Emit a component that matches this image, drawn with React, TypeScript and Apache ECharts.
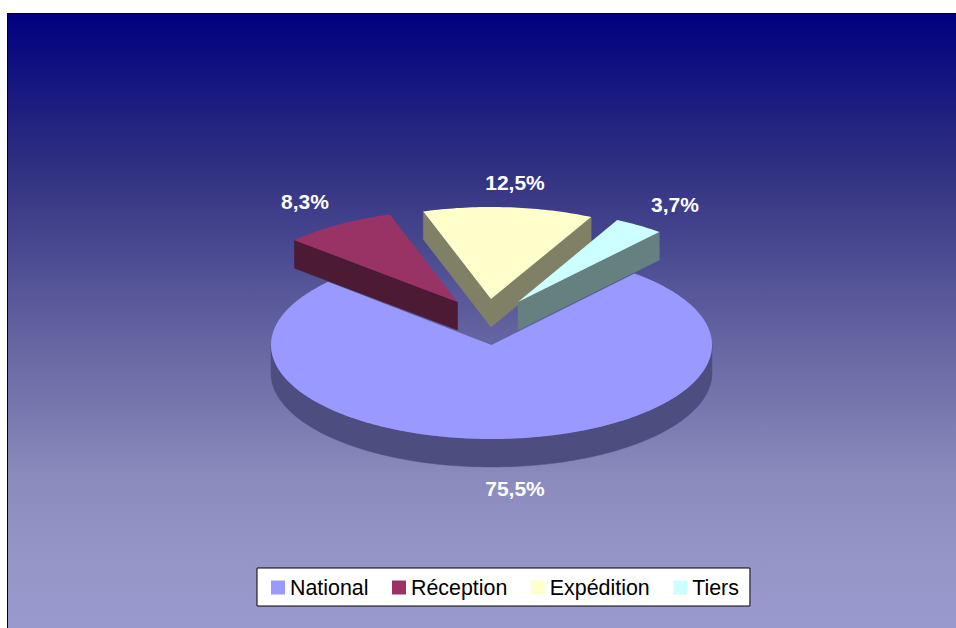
import React, { useEffect, useRef } from "react";
import * as echarts from "echarts";

const categories = ["National", "Réception", "Expédition", "Tiers"];
const shares = [75.5, 8.3, 12.5, 3.7];
const topColors = ["#9999FF", "#993366", "#FFFFCC", "#CCFFFF"];
const sideColors = ["#4D4D80", "#4D1A33", "#808066", "#668080"];

// layout of the tilted pie
const CX = 491.5;
const CY = 345;
const DEPTH = 28;
const START_DEG = 40.4;
const radii = [[220.5, 94], [220, 92], [220, 92], [218, 92]];
const explodeOffsets = [[0, 0], [-34, -43], [-0.5, -46], [26.5, -43]];
const labelPositions = [[515, 488], [305, 201], [515, 182], [675, 204]];

const total = shares.reduce((a, b) => a + b, 0);

function renderSlice(index: number) {
  return (_params: any, api: any) => {
    const value = api.value(0);
    let before = 0;
    for (let i = 0; i < index; i++) before += shares[i];
    const s = START_DEG + (before / total) * 360;
    const e = s + (value / total) * 360;
    const [rx, ry] = radii[index];
    const ax = CX + explodeOffsets[index][0];
    const ay = CY + explodeOffsets[index][1];
    const pt = (deg: number, dy = 0) => {
      const r = (deg * Math.PI) / 180;
      return [ax + rx * Math.sin(r), ay - ry * Math.cos(r) + dy];
    };
    const arc = (a: number, b: number, dy = 0) => {
      const out: number[][] = [];
      const n = Math.max(2, Math.ceil(Math.abs(b - a)));
      for (let i = 0; i <= n; i++) out.push(pt(a + ((b - a) * i) / n, dy));
      return out;
    };
    const side = sideColors[index];
    const children: any[] = [];
    const addSide = (points: number[][]) =>
      children.push({ type: "polygon", shape: { points }, style: { fill: side, stroke: side, lineWidth: 0.5 } });
    // visible radial cut faces
    if (Math.sin((s * Math.PI) / 180) < 0 && index !== 0) {
      const p = pt(s);
      addSide([p, [ax, ay], [ax, ay + DEPTH], [p[0], p[1] + DEPTH]]);
    }
    if (Math.sin((e * Math.PI) / 180) > 0 && index !== 0) {
      const p = pt(e);
      addSide([p, [ax, ay], [ax, ay + DEPTH], [p[0], p[1] + DEPTH]]);
    }
    // visible outer rim (front half of the ellipse)
    const rimFrom = Math.max(s, 90);
    const rimTo = Math.min(e, 270);
    if (rimTo > rimFrom) {
      addSide([...arc(rimFrom, rimTo), ...arc(rimTo, rimFrom, DEPTH)]);
    }
    children.push({
      type: "polygon",
      shape: { points: [[ax, ay], ...arc(s, e)] },
      style: { fill: topColors[index] },
    });
    children.push({
      type: "text",
      x: labelPositions[index][0],
      y: labelPositions[index][1],
      style: {
        text: value.toFixed(1).replace(".", ",") + "%",
        fill: "#FFFFFF",
        font: 'bold 21px "Liberation Sans", Arial, sans-serif',
        align: "center",
        verticalAlign: "middle",
      },
    });
    return { type: "group", children };
  };
}

export default function App() {
  const ref = useRef<HTMLDivElement>(null);
  useEffect(() => {
    document.body.style.margin = "0";
    const chart = echarts.init(ref.current!, null, { renderer: "svg" });
    chart.setOption({
      animation: false,
      legend: {
        left: 257,
        top: 568,
        orient: "horizontal",
        data: categories,
        icon: "rect",
        itemWidth: 14,
        itemHeight: 14,
        itemGap: 23.5,
        padding: [9, 11, 8, 14],
        backgroundColor: "#FFFFFF",
        borderColor: "#000000",
        borderWidth: 1,
        selectedMode: false,
        formatter: (n: string) => n,
        textStyle: {
          color: "#000000",
          fontFamily: '"Liberation Sans", Arial, sans-serif',
          fontSize: 21.4,
          padding: [0, 0, 0, 0],
        },
      },
      graphic: [
        {
          type: "rect",
          z: -10,
          silent: true,
          shape: { x: 7, y: 13, width: 949, height: 615 },
          style: {
            fill: new echarts.graphic.LinearGradient(0, 0, 0, 1, [
              { offset: 0, color: "#000080" },
              { offset: 0.25, color: "rgb(48,48,130)" },
              { offset: 0.5, color: "rgb(95,95,158)" },
              { offset: 0.75, color: "rgb(138,138,188)" },
              { offset: 0.88, color: "rgb(149,149,199)" },
              { offset: 1, color: "rgb(153,153,206)" },
            ]),
          },
        },
        { type: "line", z: -9, silent: true, shape: { x1: 7, y1: 13.5, x2: 956, y2: 13.5 }, style: { stroke: "#000000", lineWidth: 1 } },
        { type: "line", z: -9, silent: true, shape: { x1: 7.5, y1: 13, x2: 7.5, y2: 628 }, style: { stroke: "#000000", lineWidth: 1 } },
      ],
      series: categories.map((name, i) => ({
        type: "custom",
        name,
        coordinateSystem: "none",
        silent: true,
        z: 2 + i,
        itemStyle: { color: topColors[i] },
        data: [[shares[i]]],
        renderItem: renderSlice(i),
      })),
    });
    return () => chart.dispose();
  }, []);
  return <div ref={ref} style={{ width: 956, height: 628 }} />;
}
